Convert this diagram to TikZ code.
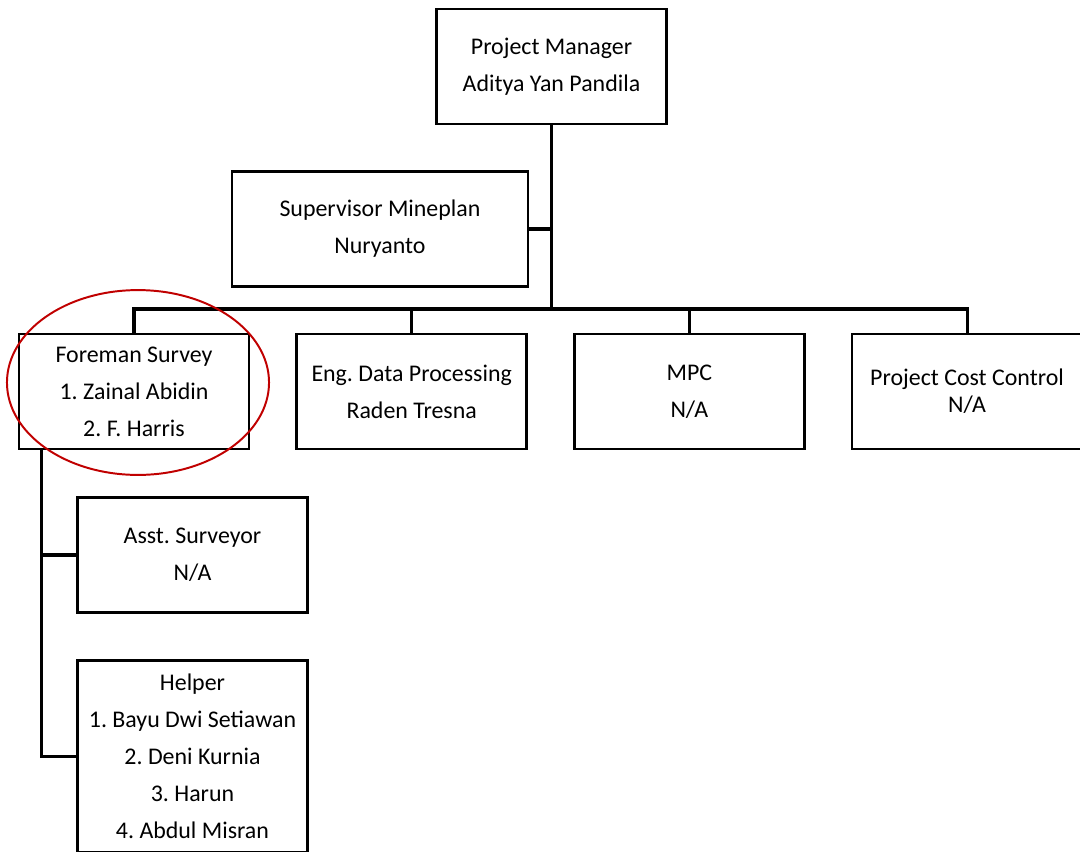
\documentclass[tikz,border=0pt]{standalone}
\usepackage{fontspec}
\setmainfont{Carlito}
\usepackage{tikz}
\usetikzlibrary{positioning,calc}
\definecolor{ringred}{RGB}{192,0,0}
\frenchspacing

\begin{document}
\begin{tikzpicture}[x=0.025cm, y=-0.025cm, node distance=1.12cm,
	box/.style={draw, line width=2pt, minimum width=5.75cm, minimum height=2.875cm, align=center, inner sep=0pt, font=\fontsize{17}{26.4}\selectfont},
	link/.style={line width=2.2pt}]
			\useasboundingbox (0,0) rectangle (1080,851);
			\node[box] (PM) at (551.5,66.5) {Project Manager\\Aditya Yan Pandila};
			\node[box, minimum width=7.4cm] (Sup) at (380,229) {Supervisor Mineplan\\Nuryanto};
			\node[box] (Fore) at (134,391.5) {Foreman Survey\\1. Zainal Abidin\\2. F. Harris};
			\node[box, right=of Fore] (Eng) {Eng. Data Processing\\Raden Tresna};
			\node[box, right=of Eng] (MPC) {MPC\\N/A};
			\node[box, right=of MPC, font=\fontsize{17}{19.3}\selectfont] (PCC) {Project Cost Control\\N/A};
			\node[box] (Asst) at (192.5,555) {Asst. Surveyor\\N/A};
			\node[box, minimum height=4.8cm, below=of Asst] (Helper) {Helper\\1. Bayu Dwi Setiawan\\2. Deni Kurnia\\3. Harun\\4. Abdul Misran};
			\coordinate (bus) at (551.5,309);
			\coordinate (drop) at ($(Fore.south west)+(24,0)$);
			\draw[link] (PM) -- (bus);
			\draw[link] (Sup.east) -- (Sup.east -| bus);
			\foreach \n in {Fore,Eng,MPC,PCC}
				\draw[link] (\n.north) |- (bus);
			\draw[link] (drop) |- (Asst.west);
			\draw[link] (drop) |- (Helper.west);
			\draw[ringred, line width=1.4pt] (138,382.5) ellipse [x radius=3.275cm, y radius=2.31cm];
		\end{tikzpicture}
\end{document}
